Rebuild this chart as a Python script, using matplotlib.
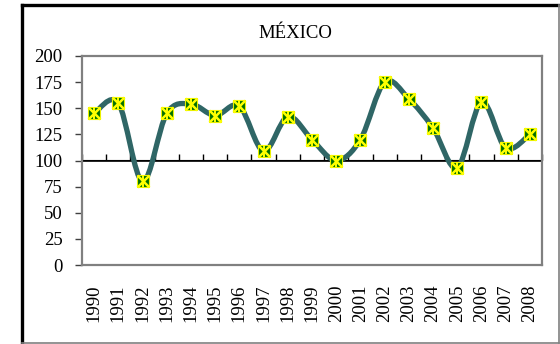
import matplotlib
matplotlib.use("Agg")
import matplotlib.pyplot as plt
from matplotlib.path import Path
from matplotlib.patches import PathPatch
from matplotlib.lines import Line2D
import numpy as np

plt.rcParams['font.family'] = ['Liberation Serif', 'DejaVu Serif']

# 数据
years = [str(y) for y in range(1990, 2009)]
values = [145, 155, 80, 145, 154, 143, 152, 109, 142, 120,
          100, 120, 175, 159, 131, 93, 156, 112, 125]
title = "MÉXICO"
y_ticks = [0, 25, 50, 75, 100, 125, 150, 175, 200]


def smooth_path(xs, ys):
    # 平滑曲线 (Bezier, 类似 Excel)
    pts = np.column_stack([xs, ys]).astype(float)
    n = len(pts)
    verts = [pts[0]]
    codes = [Path.MOVETO]
    for i in range(n - 1):
        p0 = pts[i - 1] if i > 0 else pts[i]
        p1 = pts[i]
        p2 = pts[i + 1]
        p3 = pts[i + 2] if i + 2 < n else pts[i + 1]
        c1 = p1 + (p2 - p0) / 6.0
        c2 = p2 - (p3 - p1) / 6.0
        verts += [c1, c2, p2]
        codes += [Path.CURVE4] * 3
    return Path(verts, codes)


fig = plt.figure(figsize=(5.6, 3.44), dpi=100)
ax = fig.add_axes([82 / 560, 1 - 265 / 344, 460 / 560, 209 / 344])

x = np.arange(len(years))
line_color = "#2F6666"
ax.add_patch(PathPatch(smooth_path(x, values), fill=False, edgecolor=line_color,
                       linewidth=3.8, capstyle="round", joinstyle="round", zorder=3))

ax.plot(x, values, linestyle="none", marker="s", markersize=8.5,
        markerfacecolor="#006F00", markeredgecolor="#E8F000",
        markeredgewidth=0.8, zorder=4)
ax.plot(x, values, linestyle="none", marker="x", markersize=8.5,
        markeredgecolor="#FFFF00", markeredgewidth=1.8, zorder=5)
ax.plot(x, values, linestyle="none", marker="|", markersize=8.5,
        markeredgecolor="#FFFF00", markeredgewidth=1.4, zorder=5)

ax.set_xlim(-0.5, len(years) - 0.5)
ax.set_ylim(0, 200)
ax.set_yticks(y_ticks)
ax.set_xticks(x)
ax.set_xticklabels(years, rotation=90, fontsize=13.5)
ax.tick_params(axis="x", length=0, pad=14)
ax.tick_params(axis="y", length=5, width=1, color="#404040", pad=9, labelsize=13.5)

for s in ax.spines.values():
    s.set_color("#808080")
    s.set_linewidth(1.6)

# 在 100 处的横轴
sec = ax.secondary_xaxis(0.5)
sec.set_xticks(np.arange(-0.5, len(years), 1.0))
sec.set_xticklabels([])
sec.tick_params(axis="x", direction="out", length=4, width=1, color="black")
sec.spines["bottom"].set_color("black")
sec.spines["bottom"].set_linewidth(1.2)
ax.axhline(100, color="black", linewidth=1.2, zorder=2)

# 标题
fig.text(295 / 560, 1 - 33 / 344, title, ha="center", va="center", fontsize=13.5)

# 外框
W, H = 560, 344
fig.add_artist(Line2D([22 / W, 22 / W], [1 - 5 / H, 0], color="black", linewidth=2.4))
fig.add_artist(Line2D([22 / W, 559 / W], [1 - 5 / H, 1 - 5 / H], color="black", linewidth=2.4))
fig.add_artist(Line2D([559 / W, 559 / W], [1 - 5 / H, 1 - 343 / H], color="#808080", linewidth=1.2))
fig.add_artist(Line2D([22 / W, 559 / W], [1 - 343 / H, 1 - 343 / H], color="#808080", linewidth=1.2))

fig.savefig("out.png", dpi=100)
plt.close(fig)
